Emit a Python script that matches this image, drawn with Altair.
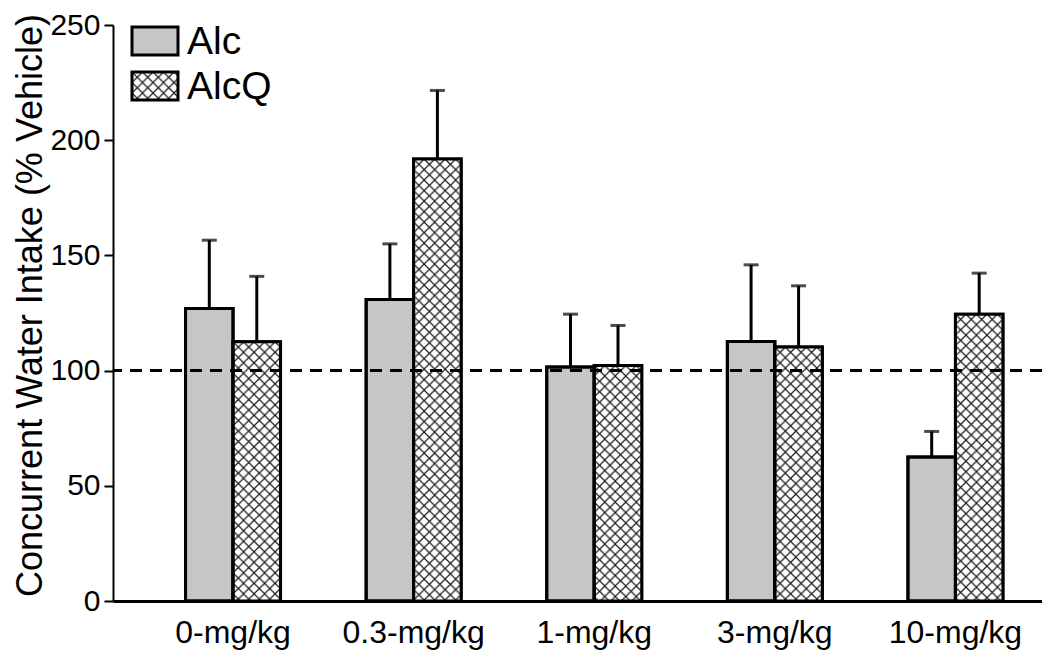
import base64
import altair as alt
import pandas as pd

# ---- data ----
doses = ["0-mg/kg", "0.3-mg/kg", "1-mg/kg", "3-mg/kg", "10-mg/kg"]
groups = ["Alc", "AlcQ"]
alc_mean = [126.9, 130.9, 101.6, 112.6, 62.5]
alc_err_top = [156.6, 155.0, 124.5, 145.9, 73.6]
alcq_mean = [112.5, 191.8, 102.2, 110.2, 124.5]
alcq_err_top = [140.9, 221.6, 119.6, 136.8, 142.3]
y_ticks = [0, 50, 100, 150, 200, 250]
ref_value = [100]
y_title = "Concurrent Water Intake (% Vehicle)"

rows = []
for i, d in enumerate(doses):
    rows.append({"dose": d, "group": "Alc", "value": alc_mean[i], "top": alc_err_top[i]})
    rows.append({"dose": d, "group": "AlcQ", "value": alcq_mean[i], "top": alcq_err_top[i]})
df = pd.DataFrame(rows)
ref_df = pd.DataFrame({"ref": ref_value})

# cross-hatch tile as an SVG image (no intrinsic size -> not stretched)
hatch_svg = (
    "<svg xmlns='http://www.w3.org/2000/svg' width='100%' height='100%'>"
    "<defs><pattern id='h' width='10.5' height='10.5' patternUnits='userSpaceOnUse'>"
    "<path d='M-1,-1 L11.5,11.5 M11.5,-1 L-1,11.5' stroke='#1a1a1a' stroke-width='1.2' fill='none'/>"
    "</pattern></defs>"
    "<rect x='0' y='0' width='100%' height='100%' fill='white'/>"
    "<rect x='0' y='0' width='100%' height='100%' fill='url(#h)'/>"
    "</svg>"
)
hatch_url = "data:image/svg+xml;base64," + base64.b64encode(hatch_svg.encode()).decode()

FONT = "Liberation Sans"
W, H = 929, 576

x_enc = alt.X(
    "dose:N",
    sort=doses,
    scale=alt.Scale(paddingInner=0.474, paddingOuter=0.309, align=0.65),
    axis=alt.Axis(
        title=None, labelAngle=0, ticks=False, labelFontSize=32, labelFont=FONT,
        labelColor="black", labelPadding=16, domainColor="black", domainWidth=3,
        labelBaseline="top",
    ),
)
xo_enc = alt.XOffset("group:N", sort=groups, scale=alt.Scale(paddingInner=0, paddingOuter=0))
y_scale = alt.Scale(domain=[0, 250], nice=False, zero=True)
y_enc = alt.Y(
    "value:Q",
    scale=y_scale,
    axis=alt.Axis(
        title=y_title, values=y_ticks, grid=False, labelFontSize=30, labelFont=FONT,
        labelColor="black", tickColor="black", tickWidth=2, tickSize=9,
        domainColor="black", domainWidth=2, labelPadding=4,
        titleFont=FONT, titleFontSize=36, titleFontWeight="normal", titleColor="black",
        titleX=-83, titleY=280, titleAngle=270, titleAlign="center", titleBaseline="middle",
    ),
)

base = alt.Chart(df)

bars = base.mark_bar(stroke="black", strokeWidth=3).encode(
    x=x_enc, xOffset=xo_enc, y=y_enc,
    fill=alt.Fill("group:N", scale=alt.Scale(domain=groups, range=["#c6c6c6", "#ffffff"]), legend=None),
)

hatch = base.transform_filter(alt.datum.group == "AlcQ").mark_image(aspect=False).encode(
    x=x_enc, xOffset=xo_enc, y=alt.Y("value:Q", scale=y_scale), y2=alt.datum(0),
    url=alt.value(hatch_url),
)

outline = base.mark_bar(fillOpacity=0, stroke="black", strokeWidth=3).encode(
    x=x_enc, xOffset=xo_enc, y=alt.Y("value:Q", scale=y_scale),
)

err = base.mark_rule(color="black", strokeWidth=3).encode(
    x=x_enc, xOffset=xo_enc, y=alt.Y("value:Q", scale=y_scale), y2="top:Q",
)

caps = base.mark_tick(color="black", thickness=3, size=15).encode(
    x=x_enc, xOffset=xo_enc, y=alt.Y("top:Q", scale=y_scale),
)

ref = alt.Chart(ref_df).mark_rule(color="black", strokeWidth=3, strokeDash=[12, 8]).encode(
    y=alt.Y("ref:Q", scale=y_scale),
)

# ---- manual legend (hatched symbol cannot be drawn by the built-in legend) ----
leg_alc = pd.DataFrame({"label": ["Alc"]})
leg_alcq = pd.DataFrame({"label": ["AlcQ"]})

leg_box1 = alt.Chart(leg_alc).mark_rect(fill="#c6c6c6", stroke="black", strokeWidth=3).encode(
    x=alt.value(19), x2=alt.value(65), y=alt.value(2), y2=alt.value(30),
)
leg_txt1 = alt.Chart(leg_alc).mark_text(
    align="left", baseline="middle", font=FONT, fontSize=39, color="black"
).encode(x=alt.value(74), y=alt.value(17), text="label:N")

leg_img2 = alt.Chart(leg_alcq).mark_image(aspect=False).encode(
    x=alt.value(19), x2=alt.value(65), y=alt.value(47), y2=alt.value(75),
    url=alt.value(hatch_url),
)
leg_box2 = alt.Chart(leg_alcq).mark_rect(fillOpacity=0, stroke="black", strokeWidth=3).encode(
    x=alt.value(19), x2=alt.value(65), y=alt.value(47), y2=alt.value(75),
)
leg_txt2 = alt.Chart(leg_alcq).mark_text(
    align="left", baseline="middle", font=FONT, fontSize=39, color="black"
).encode(x=alt.value(74), y=alt.value(62), text="label:N")

chart = alt.layer(
    bars, hatch, outline, err, caps, ref,
    leg_box1, leg_txt1, leg_img2, leg_box2, leg_txt2,
).properties(
    width=W, height=H,
    padding={"left": 105, "top": 17, "right": 0, "bottom": 49},
    autosize=alt.AutoSizeParams(type="none"),
).configure(
    font=FONT, background="white"
).configure_view(stroke=None)

chart.save("out.html", embed_options={"renderer": "svg", "actions": False})
